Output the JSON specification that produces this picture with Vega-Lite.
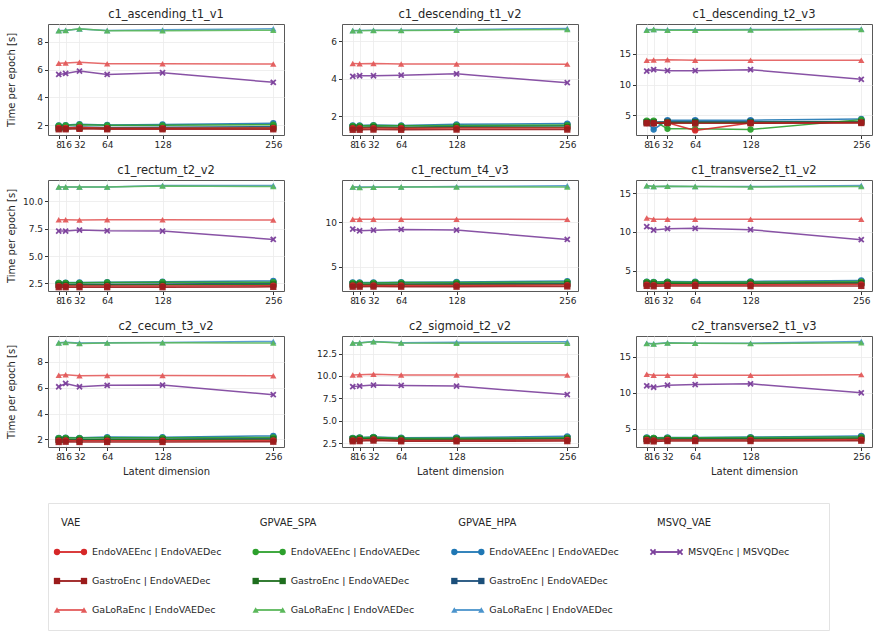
{
  "$schema": "https://vega.github.io/schema/vega-lite/v6.json",
  "background": "white",
  "padding": {"left": 5, "top": 8, "right": 5, "bottom": 4},
  "datasets": {
    "c1_ascending_t1_v1": [
      {"series":"HPA Endo","dim":8,"time":2.0},{"series":"HPA Endo","dim":16,"time":2.02},{"series":"HPA Endo","dim":32,"time":2.08},{"series":"HPA Endo","dim":64,"time":2.03},{"series":"HPA Endo","dim":128,"time":2.06},{"series":"HPA Endo","dim":256,"time":2.15},
      {"series":"HPA GaLoRa","dim":8,"time":8.8},{"series":"HPA GaLoRa","dim":16,"time":8.82},{"series":"HPA GaLoRa","dim":32,"time":8.9},{"series":"HPA GaLoRa","dim":64,"time":8.8},{"series":"HPA GaLoRa","dim":128,"time":8.84},{"series":"HPA GaLoRa","dim":256,"time":8.92},
      {"series":"HPA Gastro","dim":8,"time":1.85},{"series":"HPA Gastro","dim":16,"time":1.85},{"series":"HPA Gastro","dim":32,"time":1.88},{"series":"HPA Gastro","dim":64,"time":1.85},{"series":"HPA Gastro","dim":128,"time":1.86},{"series":"HPA Gastro","dim":256,"time":1.9},
      {"series":"MSVQ","dim":8,"time":5.65},{"series":"MSVQ","dim":16,"time":5.72},{"series":"MSVQ","dim":32,"time":5.89},{"series":"MSVQ","dim":64,"time":5.65},{"series":"MSVQ","dim":128,"time":5.77},{"series":"MSVQ","dim":256,"time":5.08},
      {"series":"SPA Endo","dim":8,"time":1.98},{"series":"SPA Endo","dim":16,"time":2.0},{"series":"SPA Endo","dim":32,"time":2.05},{"series":"SPA Endo","dim":64,"time":2.0},{"series":"SPA Endo","dim":128,"time":2.0},{"series":"SPA Endo","dim":256,"time":2.05},
      {"series":"SPA GaLoRa","dim":8,"time":8.78},{"series":"SPA GaLoRa","dim":16,"time":8.8},{"series":"SPA GaLoRa","dim":32,"time":8.92},{"series":"SPA GaLoRa","dim":64,"time":8.78},{"series":"SPA GaLoRa","dim":128,"time":8.78},{"series":"SPA GaLoRa","dim":256,"time":8.82},
      {"series":"SPA Gastro","dim":8,"time":1.8},{"series":"SPA Gastro","dim":16,"time":1.8},{"series":"SPA Gastro","dim":32,"time":1.83},{"series":"SPA Gastro","dim":64,"time":1.8},{"series":"SPA Gastro","dim":128,"time":1.8},{"series":"SPA Gastro","dim":256,"time":1.82},
      {"series":"VAE Endo","dim":8,"time":1.82},{"series":"VAE Endo","dim":16,"time":1.82},{"series":"VAE Endo","dim":32,"time":1.85},{"series":"VAE Endo","dim":64,"time":1.8},{"series":"VAE Endo","dim":128,"time":1.8},{"series":"VAE Endo","dim":256,"time":1.82},
      {"series":"VAE GaLoRa","dim":8,"time":6.45},{"series":"VAE GaLoRa","dim":16,"time":6.47},{"series":"VAE GaLoRa","dim":32,"time":6.52},{"series":"VAE GaLoRa","dim":64,"time":6.42},{"series":"VAE GaLoRa","dim":128,"time":6.42},{"series":"VAE GaLoRa","dim":256,"time":6.4},
      {"series":"VAE Gastro","dim":8,"time":1.72},{"series":"VAE Gastro","dim":16,"time":1.72},{"series":"VAE Gastro","dim":32,"time":1.75},{"series":"VAE Gastro","dim":64,"time":1.72},{"series":"VAE Gastro","dim":128,"time":1.72},{"series":"VAE Gastro","dim":256,"time":1.72}
    ],
    "c1_descending_t1_v2": [
      {"series":"HPA Endo","dim":8,"time":1.5},{"series":"HPA Endo","dim":16,"time":1.5},{"series":"HPA Endo","dim":32,"time":1.52},{"series":"HPA Endo","dim":64,"time":1.5},{"series":"HPA Endo","dim":128,"time":1.56},{"series":"HPA Endo","dim":256,"time":1.6},
      {"series":"HPA GaLoRa","dim":8,"time":6.56},{"series":"HPA GaLoRa","dim":16,"time":6.57},{"series":"HPA GaLoRa","dim":32,"time":6.58},{"series":"HPA GaLoRa","dim":64,"time":6.58},{"series":"HPA GaLoRa","dim":128,"time":6.61},{"series":"HPA GaLoRa","dim":256,"time":6.67},
      {"series":"HPA Gastro","dim":8,"time":1.4},{"series":"HPA Gastro","dim":16,"time":1.4},{"series":"HPA Gastro","dim":32,"time":1.42},{"series":"HPA Gastro","dim":64,"time":1.4},{"series":"HPA Gastro","dim":128,"time":1.45},{"series":"HPA Gastro","dim":256,"time":1.48},
      {"series":"MSVQ","dim":8,"time":4.12},{"series":"MSVQ","dim":16,"time":4.15},{"series":"MSVQ","dim":32,"time":4.15},{"series":"MSVQ","dim":64,"time":4.18},{"series":"MSVQ","dim":128,"time":4.25},{"series":"MSVQ","dim":256,"time":3.78},
      {"series":"SPA Endo","dim":8,"time":1.48},{"series":"SPA Endo","dim":16,"time":1.48},{"series":"SPA Endo","dim":32,"time":1.5},{"series":"SPA Endo","dim":64,"time":1.48},{"series":"SPA Endo","dim":128,"time":1.5},{"series":"SPA Endo","dim":256,"time":1.52},
      {"series":"SPA GaLoRa","dim":8,"time":6.55},{"series":"SPA GaLoRa","dim":16,"time":6.55},{"series":"SPA GaLoRa","dim":32,"time":6.56},{"series":"SPA GaLoRa","dim":64,"time":6.56},{"series":"SPA GaLoRa","dim":128,"time":6.58},{"series":"SPA GaLoRa","dim":256,"time":6.62},
      {"series":"SPA Gastro","dim":8,"time":1.38},{"series":"SPA Gastro","dim":16,"time":1.38},{"series":"SPA Gastro","dim":32,"time":1.4},{"series":"SPA Gastro","dim":64,"time":1.38},{"series":"SPA Gastro","dim":128,"time":1.4},{"series":"SPA Gastro","dim":256,"time":1.4},
      {"series":"VAE Endo","dim":8,"time":1.35},{"series":"VAE Endo","dim":16,"time":1.35},{"series":"VAE Endo","dim":32,"time":1.36},{"series":"VAE Endo","dim":64,"time":1.35},{"series":"VAE Endo","dim":128,"time":1.36},{"series":"VAE Endo","dim":256,"time":1.37},
      {"series":"VAE GaLoRa","dim":8,"time":4.8},{"series":"VAE GaLoRa","dim":16,"time":4.79},{"series":"VAE GaLoRa","dim":32,"time":4.8},{"series":"VAE GaLoRa","dim":64,"time":4.78},{"series":"VAE GaLoRa","dim":128,"time":4.78},{"series":"VAE GaLoRa","dim":256,"time":4.77},
      {"series":"VAE Gastro","dim":8,"time":1.27},{"series":"VAE Gastro","dim":16,"time":1.27},{"series":"VAE Gastro","dim":32,"time":1.28},{"series":"VAE Gastro","dim":64,"time":1.27},{"series":"VAE Gastro","dim":128,"time":1.28},{"series":"VAE Gastro","dim":256,"time":1.28}
    ],
    "c1_descending_t2_v3": [
      {"series":"HPA Endo","dim":8,"time":3.85},{"series":"HPA Endo","dim":16,"time":2.7},{"series":"HPA Endo","dim":32,"time":4.2},{"series":"HPA Endo","dim":64,"time":4.2},{"series":"HPA Endo","dim":128,"time":4.2},{"series":"HPA Endo","dim":256,"time":4.4},
      {"series":"HPA GaLoRa","dim":8,"time":18.9},{"series":"HPA GaLoRa","dim":16,"time":18.95},{"series":"HPA GaLoRa","dim":32,"time":18.9},{"series":"HPA GaLoRa","dim":64,"time":18.9},{"series":"HPA GaLoRa","dim":128,"time":18.95},{"series":"HPA GaLoRa","dim":256,"time":19.05},
      {"series":"HPA Gastro","dim":8,"time":3.9},{"series":"HPA Gastro","dim":16,"time":3.9},{"series":"HPA Gastro","dim":32,"time":3.95},{"series":"HPA Gastro","dim":64,"time":3.95},{"series":"HPA Gastro","dim":128,"time":3.95},{"series":"HPA Gastro","dim":256,"time":4.0},
      {"series":"MSVQ","dim":8,"time":12.2},{"series":"MSVQ","dim":16,"time":12.43},{"series":"MSVQ","dim":32,"time":12.26},{"series":"MSVQ","dim":64,"time":12.26},{"series":"MSVQ","dim":128,"time":12.43},{"series":"MSVQ","dim":256,"time":10.85},
      {"series":"SPA Endo","dim":8,"time":4.15},{"series":"SPA Endo","dim":16,"time":4.15},{"series":"SPA Endo","dim":32,"time":2.8},{"series":"SPA Endo","dim":64,"time":2.8},{"series":"SPA Endo","dim":128,"time":2.7},{"series":"SPA Endo","dim":256,"time":4.3},
      {"series":"SPA GaLoRa","dim":8,"time":18.85},{"series":"SPA GaLoRa","dim":16,"time":18.95},{"series":"SPA GaLoRa","dim":32,"time":18.85},{"series":"SPA GaLoRa","dim":64,"time":18.85},{"series":"SPA GaLoRa","dim":128,"time":18.88},{"series":"SPA GaLoRa","dim":256,"time":18.95},
      {"series":"SPA Gastro","dim":8,"time":3.85},{"series":"SPA Gastro","dim":16,"time":3.8},{"series":"SPA Gastro","dim":32,"time":3.85},{"series":"SPA Gastro","dim":64,"time":3.85},{"series":"SPA Gastro","dim":128,"time":3.85},{"series":"SPA Gastro","dim":256,"time":3.9},
      {"series":"VAE Endo","dim":8,"time":3.75},{"series":"VAE Endo","dim":16,"time":3.7},{"series":"VAE Endo","dim":32,"time":3.8},{"series":"VAE Endo","dim":64,"time":2.55},{"series":"VAE Endo","dim":128,"time":3.75},{"series":"VAE Endo","dim":256,"time":3.85},
      {"series":"VAE GaLoRa","dim":8,"time":13.95},{"series":"VAE GaLoRa","dim":16,"time":14.0},{"series":"VAE GaLoRa","dim":32,"time":14.05},{"series":"VAE GaLoRa","dim":64,"time":13.95},{"series":"VAE GaLoRa","dim":128,"time":13.95},{"series":"VAE GaLoRa","dim":256,"time":13.95},
      {"series":"VAE Gastro","dim":8,"time":3.7},{"series":"VAE Gastro","dim":16,"time":3.7},{"series":"VAE Gastro","dim":32,"time":3.75},{"series":"VAE Gastro","dim":64,"time":3.7},{"series":"VAE Gastro","dim":128,"time":3.72},{"series":"VAE Gastro","dim":256,"time":3.75}
    ],
    "c1_rectum_t2_v2": [
      {"series":"HPA Endo","dim":8,"time":2.55},{"series":"HPA Endo","dim":16,"time":2.57},{"series":"HPA Endo","dim":32,"time":2.58},{"series":"HPA Endo","dim":64,"time":2.6},{"series":"HPA Endo","dim":128,"time":2.65},{"series":"HPA Endo","dim":256,"time":2.72},
      {"series":"HPA GaLoRa","dim":8,"time":11.32},{"series":"HPA GaLoRa","dim":16,"time":11.32},{"series":"HPA GaLoRa","dim":32,"time":11.3},{"series":"HPA GaLoRa","dim":64,"time":11.32},{"series":"HPA GaLoRa","dim":128,"time":11.45},{"series":"HPA GaLoRa","dim":256,"time":11.45},
      {"series":"HPA Gastro","dim":8,"time":2.4},{"series":"HPA Gastro","dim":16,"time":2.4},{"series":"HPA Gastro","dim":32,"time":2.42},{"series":"HPA Gastro","dim":64,"time":2.42},{"series":"HPA Gastro","dim":128,"time":2.45},{"series":"HPA Gastro","dim":256,"time":2.5},
      {"series":"MSVQ","dim":8,"time":7.28},{"series":"MSVQ","dim":16,"time":7.28},{"series":"MSVQ","dim":32,"time":7.37},{"series":"MSVQ","dim":64,"time":7.3},{"series":"MSVQ","dim":128,"time":7.28},{"series":"MSVQ","dim":256,"time":6.52},
      {"series":"SPA Endo","dim":8,"time":2.55},{"series":"SPA Endo","dim":16,"time":2.55},{"series":"SPA Endo","dim":32,"time":2.55},{"series":"SPA Endo","dim":64,"time":2.58},{"series":"SPA Endo","dim":128,"time":2.6},{"series":"SPA Endo","dim":256,"time":2.6},
      {"series":"SPA GaLoRa","dim":8,"time":11.3},{"series":"SPA GaLoRa","dim":16,"time":11.3},{"series":"SPA GaLoRa","dim":32,"time":11.3},{"series":"SPA GaLoRa","dim":64,"time":11.3},{"series":"SPA GaLoRa","dim":128,"time":11.4},{"series":"SPA GaLoRa","dim":256,"time":11.35},
      {"series":"SPA Gastro","dim":8,"time":2.35},{"series":"SPA Gastro","dim":16,"time":2.35},{"series":"SPA Gastro","dim":32,"time":2.35},{"series":"SPA Gastro","dim":64,"time":2.35},{"series":"SPA Gastro","dim":128,"time":2.38},{"series":"SPA Gastro","dim":256,"time":2.4},
      {"series":"VAE Endo","dim":8,"time":2.25},{"series":"VAE Endo","dim":16,"time":2.25},{"series":"VAE Endo","dim":32,"time":2.25},{"series":"VAE Endo","dim":64,"time":2.25},{"series":"VAE Endo","dim":128,"time":2.25},{"series":"VAE Endo","dim":256,"time":2.28},
      {"series":"VAE GaLoRa","dim":8,"time":8.32},{"series":"VAE GaLoRa","dim":16,"time":8.32},{"series":"VAE GaLoRa","dim":32,"time":8.3},{"series":"VAE GaLoRa","dim":64,"time":8.32},{"series":"VAE GaLoRa","dim":128,"time":8.32},{"series":"VAE GaLoRa","dim":256,"time":8.3},
      {"series":"VAE Gastro","dim":8,"time":2.15},{"series":"VAE Gastro","dim":16,"time":2.15},{"series":"VAE Gastro","dim":32,"time":2.15},{"series":"VAE Gastro","dim":64,"time":2.15},{"series":"VAE Gastro","dim":128,"time":2.15},{"series":"VAE Gastro","dim":256,"time":2.18}
    ],
    "c1_rectum_t4_v3": [
      {"series":"HPA Endo","dim":8,"time":3.2},{"series":"HPA Endo","dim":16,"time":3.2},{"series":"HPA Endo","dim":32,"time":3.2},{"series":"HPA Endo","dim":64,"time":3.22},{"series":"HPA Endo","dim":128,"time":3.25},{"series":"HPA Endo","dim":256,"time":3.35},
      {"series":"HPA GaLoRa","dim":8,"time":14.02},{"series":"HPA GaLoRa","dim":16,"time":14.0},{"series":"HPA GaLoRa","dim":32,"time":14.0},{"series":"HPA GaLoRa","dim":64,"time":14.02},{"series":"HPA GaLoRa","dim":128,"time":14.05},{"series":"HPA GaLoRa","dim":256,"time":14.15},
      {"series":"HPA Gastro","dim":8,"time":3.0},{"series":"HPA Gastro","dim":16,"time":3.0},{"series":"HPA Gastro","dim":32,"time":3.02},{"series":"HPA Gastro","dim":64,"time":3.03},{"series":"HPA Gastro","dim":128,"time":3.05},{"series":"HPA Gastro","dim":256,"time":3.1},
      {"series":"MSVQ","dim":8,"time":9.24},{"series":"MSVQ","dim":16,"time":9.05},{"series":"MSVQ","dim":32,"time":9.12},{"series":"MSVQ","dim":64,"time":9.2},{"series":"MSVQ","dim":128,"time":9.13},{"series":"MSVQ","dim":256,"time":8.07},
      {"series":"SPA Endo","dim":8,"time":3.15},{"series":"SPA Endo","dim":16,"time":3.15},{"series":"SPA Endo","dim":32,"time":3.15},{"series":"SPA Endo","dim":64,"time":3.18},{"series":"SPA Endo","dim":128,"time":3.18},{"series":"SPA Endo","dim":256,"time":3.25},
      {"series":"SPA GaLoRa","dim":8,"time":14.0},{"series":"SPA GaLoRa","dim":16,"time":13.95},{"series":"SPA GaLoRa","dim":32,"time":13.97},{"series":"SPA GaLoRa","dim":64,"time":14.0},{"series":"SPA GaLoRa","dim":128,"time":14.0},{"series":"SPA GaLoRa","dim":256,"time":14.0},
      {"series":"SPA Gastro","dim":8,"time":2.95},{"series":"SPA Gastro","dim":16,"time":2.95},{"series":"SPA Gastro","dim":32,"time":2.95},{"series":"SPA Gastro","dim":64,"time":2.97},{"series":"SPA Gastro","dim":128,"time":2.97},{"series":"SPA Gastro","dim":256,"time":3.0},
      {"series":"VAE Endo","dim":8,"time":2.85},{"series":"VAE Endo","dim":16,"time":2.85},{"series":"VAE Endo","dim":32,"time":2.85},{"series":"VAE Endo","dim":64,"time":2.85},{"series":"VAE Endo","dim":128,"time":2.85},{"series":"VAE Endo","dim":256,"time":2.9},
      {"series":"VAE GaLoRa","dim":8,"time":10.36},{"series":"VAE GaLoRa","dim":16,"time":10.35},{"series":"VAE GaLoRa","dim":32,"time":10.35},{"series":"VAE GaLoRa","dim":64,"time":10.35},{"series":"VAE GaLoRa","dim":128,"time":10.35},{"series":"VAE GaLoRa","dim":256,"time":10.34},
      {"series":"VAE Gastro","dim":8,"time":2.72},{"series":"VAE Gastro","dim":16,"time":2.72},{"series":"VAE Gastro","dim":32,"time":2.73},{"series":"VAE Gastro","dim":64,"time":2.72},{"series":"VAE Gastro","dim":128,"time":2.72},{"series":"VAE Gastro","dim":256,"time":2.75}
    ],
    "c1_transverse2_t1_v2": [
      {"series":"HPA Endo","dim":8,"time":3.6},{"series":"HPA Endo","dim":16,"time":3.55},{"series":"HPA Endo","dim":32,"time":3.6},{"series":"HPA Endo","dim":64,"time":3.58},{"series":"HPA Endo","dim":128,"time":3.62},{"series":"HPA Endo","dim":256,"time":3.75},
      {"series":"HPA GaLoRa","dim":8,"time":15.97},{"series":"HPA GaLoRa","dim":16,"time":15.87},{"series":"HPA GaLoRa","dim":32,"time":15.9},{"series":"HPA GaLoRa","dim":64,"time":15.87},{"series":"HPA GaLoRa","dim":128,"time":15.85},{"series":"HPA GaLoRa","dim":256,"time":16.0},
      {"series":"HPA Gastro","dim":8,"time":3.4},{"series":"HPA Gastro","dim":16,"time":3.38},{"series":"HPA Gastro","dim":32,"time":3.4},{"series":"HPA Gastro","dim":64,"time":3.4},{"series":"HPA Gastro","dim":128,"time":3.42},{"series":"HPA Gastro","dim":256,"time":3.5},
      {"series":"MSVQ","dim":8,"time":10.68},{"series":"MSVQ","dim":16,"time":10.25},{"series":"MSVQ","dim":32,"time":10.42},{"series":"MSVQ","dim":64,"time":10.47},{"series":"MSVQ","dim":128,"time":10.3},{"series":"MSVQ","dim":256,"time":9.01},
      {"series":"SPA Endo","dim":8,"time":3.55},{"series":"SPA Endo","dim":16,"time":3.52},{"series":"SPA Endo","dim":32,"time":3.55},{"series":"SPA Endo","dim":64,"time":3.52},{"series":"SPA Endo","dim":128,"time":3.55},{"series":"SPA Endo","dim":256,"time":3.6},
      {"series":"SPA GaLoRa","dim":8,"time":15.95},{"series":"SPA GaLoRa","dim":16,"time":15.85},{"series":"SPA GaLoRa","dim":32,"time":15.88},{"series":"SPA GaLoRa","dim":64,"time":15.85},{"series":"SPA GaLoRa","dim":128,"time":15.8},{"series":"SPA GaLoRa","dim":256,"time":15.85},
      {"series":"SPA Gastro","dim":8,"time":3.35},{"series":"SPA Gastro","dim":16,"time":3.3},{"series":"SPA Gastro","dim":32,"time":3.35},{"series":"SPA Gastro","dim":64,"time":3.35},{"series":"SPA Gastro","dim":128,"time":3.35},{"series":"SPA Gastro","dim":256,"time":3.4},
      {"series":"VAE Endo","dim":8,"time":3.2},{"series":"VAE Endo","dim":16,"time":3.15},{"series":"VAE Endo","dim":32,"time":3.2},{"series":"VAE Endo","dim":64,"time":3.2},{"series":"VAE Endo","dim":128,"time":3.2},{"series":"VAE Endo","dim":256,"time":3.25},
      {"series":"VAE GaLoRa","dim":8,"time":11.8},{"series":"VAE GaLoRa","dim":16,"time":11.63},{"series":"VAE GaLoRa","dim":32,"time":11.65},{"series":"VAE GaLoRa","dim":64,"time":11.65},{"series":"VAE GaLoRa","dim":128,"time":11.65},{"series":"VAE GaLoRa","dim":256,"time":11.65},
      {"series":"VAE Gastro","dim":8,"time":3.05},{"series":"VAE Gastro","dim":16,"time":3.0},{"series":"VAE Gastro","dim":32,"time":3.05},{"series":"VAE Gastro","dim":64,"time":3.05},{"series":"VAE Gastro","dim":128,"time":3.02},{"series":"VAE Gastro","dim":256,"time":3.05}
    ],
    "c2_cecum_t3_v2": [
      {"series":"HPA Endo","dim":8,"time":2.12},{"series":"HPA Endo","dim":16,"time":2.14},{"series":"HPA Endo","dim":32,"time":2.12},{"series":"HPA Endo","dim":64,"time":2.18},{"series":"HPA Endo","dim":128,"time":2.17},{"series":"HPA Endo","dim":256,"time":2.27},
      {"series":"HPA GaLoRa","dim":8,"time":9.47},{"series":"HPA GaLoRa","dim":16,"time":9.52},{"series":"HPA GaLoRa","dim":32,"time":9.45},{"series":"HPA GaLoRa","dim":64,"time":9.47},{"series":"HPA GaLoRa","dim":128,"time":9.5},{"series":"HPA GaLoRa","dim":256,"time":9.58},
      {"series":"HPA Gastro","dim":8,"time":1.98},{"series":"HPA Gastro","dim":16,"time":2.0},{"series":"HPA Gastro","dim":32,"time":1.98},{"series":"HPA Gastro","dim":64,"time":2.02},{"series":"HPA Gastro","dim":128,"time":2.02},{"series":"HPA Gastro","dim":256,"time":2.08},
      {"series":"MSVQ","dim":8,"time":6.07},{"series":"MSVQ","dim":16,"time":6.33},{"series":"MSVQ","dim":32,"time":6.07},{"series":"MSVQ","dim":64,"time":6.18},{"series":"MSVQ","dim":128,"time":6.2},{"series":"MSVQ","dim":256,"time":5.46},
      {"series":"SPA Endo","dim":8,"time":2.1},{"series":"SPA Endo","dim":16,"time":2.12},{"series":"SPA Endo","dim":32,"time":2.1},{"series":"SPA Endo","dim":64,"time":2.12},{"series":"SPA Endo","dim":128,"time":2.12},{"series":"SPA Endo","dim":256,"time":2.15},
      {"series":"SPA GaLoRa","dim":8,"time":9.45},{"series":"SPA GaLoRa","dim":16,"time":9.5},{"series":"SPA GaLoRa","dim":32,"time":9.42},{"series":"SPA GaLoRa","dim":64,"time":9.45},{"series":"SPA GaLoRa","dim":128,"time":9.47},{"series":"SPA GaLoRa","dim":256,"time":9.46},
      {"series":"SPA Gastro","dim":8,"time":1.95},{"series":"SPA Gastro","dim":16,"time":1.97},{"series":"SPA Gastro","dim":32,"time":1.95},{"series":"SPA Gastro","dim":64,"time":1.97},{"series":"SPA Gastro","dim":128,"time":1.97},{"series":"SPA Gastro","dim":256,"time":2.0},
      {"series":"VAE Endo","dim":8,"time":1.9},{"series":"VAE Endo","dim":16,"time":1.92},{"series":"VAE Endo","dim":32,"time":1.9},{"series":"VAE Endo","dim":64,"time":1.9},{"series":"VAE Endo","dim":128,"time":1.9},{"series":"VAE Endo","dim":256,"time":1.92},
      {"series":"VAE GaLoRa","dim":8,"time":6.97},{"series":"VAE GaLoRa","dim":16,"time":7.0},{"series":"VAE GaLoRa","dim":32,"time":6.92},{"series":"VAE GaLoRa","dim":64,"time":6.95},{"series":"VAE GaLoRa","dim":128,"time":6.95},{"series":"VAE GaLoRa","dim":256,"time":6.92},
      {"series":"VAE Gastro","dim":8,"time":1.8},{"series":"VAE Gastro","dim":16,"time":1.82},{"series":"VAE Gastro","dim":32,"time":1.8},{"series":"VAE Gastro","dim":64,"time":1.8},{"series":"VAE Gastro","dim":128,"time":1.8},{"series":"VAE Gastro","dim":256,"time":1.82}
    ],
    "c2_sigmoid_t2_v2": [
      {"series":"HPA Endo","dim":8,"time":3.08},{"series":"HPA Endo","dim":16,"time":3.12},{"series":"HPA Endo","dim":32,"time":3.18},{"series":"HPA Endo","dim":64,"time":3.1},{"series":"HPA Endo","dim":128,"time":3.12},{"series":"HPA Endo","dim":256,"time":3.25},
      {"series":"HPA GaLoRa","dim":8,"time":13.7},{"series":"HPA GaLoRa","dim":16,"time":13.72},{"series":"HPA GaLoRa","dim":32,"time":13.85},{"series":"HPA GaLoRa","dim":64,"time":13.72},{"series":"HPA GaLoRa","dim":128,"time":13.78},{"series":"HPA GaLoRa","dim":256,"time":13.82},
      {"series":"HPA Gastro","dim":8,"time":2.95},{"series":"HPA Gastro","dim":16,"time":2.98},{"series":"HPA Gastro","dim":32,"time":3.05},{"series":"HPA Gastro","dim":64,"time":2.95},{"series":"HPA Gastro","dim":128,"time":2.98},{"series":"HPA Gastro","dim":256,"time":3.05},
      {"series":"MSVQ","dim":8,"time":8.81},{"series":"MSVQ","dim":16,"time":8.87},{"series":"MSVQ","dim":32,"time":8.98},{"series":"MSVQ","dim":64,"time":8.94},{"series":"MSVQ","dim":128,"time":8.87},{"series":"MSVQ","dim":256,"time":7.92},
      {"series":"SPA Endo","dim":8,"time":3.05},{"series":"SPA Endo","dim":16,"time":3.1},{"series":"SPA Endo","dim":32,"time":3.15},{"series":"SPA Endo","dim":64,"time":3.05},{"series":"SPA Endo","dim":128,"time":3.05},{"series":"SPA Endo","dim":256,"time":3.1},
      {"series":"SPA GaLoRa","dim":8,"time":13.68},{"series":"SPA GaLoRa","dim":16,"time":13.7},{"series":"SPA GaLoRa","dim":32,"time":13.82},{"series":"SPA GaLoRa","dim":64,"time":13.68},{"series":"SPA GaLoRa","dim":128,"time":13.65},{"series":"SPA GaLoRa","dim":256,"time":13.65},
      {"series":"SPA Gastro","dim":8,"time":2.9},{"series":"SPA Gastro","dim":16,"time":2.95},{"series":"SPA Gastro","dim":32,"time":3.0},{"series":"SPA Gastro","dim":64,"time":2.9},{"series":"SPA Gastro","dim":128,"time":2.9},{"series":"SPA Gastro","dim":256,"time":2.95},
      {"series":"VAE Endo","dim":8,"time":2.8},{"series":"VAE Endo","dim":16,"time":2.85},{"series":"VAE Endo","dim":32,"time":2.9},{"series":"VAE Endo","dim":64,"time":2.8},{"series":"VAE Endo","dim":128,"time":2.8},{"series":"VAE Endo","dim":256,"time":2.85},
      {"series":"VAE GaLoRa","dim":8,"time":10.11},{"series":"VAE GaLoRa","dim":16,"time":10.13},{"series":"VAE GaLoRa","dim":32,"time":10.2},{"series":"VAE GaLoRa","dim":64,"time":10.11},{"series":"VAE GaLoRa","dim":128,"time":10.1},{"series":"VAE GaLoRa","dim":256,"time":10.1},
      {"series":"VAE Gastro","dim":8,"time":2.7},{"series":"VAE Gastro","dim":16,"time":2.72},{"series":"VAE Gastro","dim":32,"time":2.78},{"series":"VAE Gastro","dim":64,"time":2.7},{"series":"VAE Gastro","dim":128,"time":2.7},{"series":"VAE Gastro","dim":256,"time":2.72}
    ],
    "c2_transverse2_t1_v3": [
      {"series":"HPA Endo","dim":8,"time":3.8},{"series":"HPA Endo","dim":16,"time":3.75},{"series":"HPA Endo","dim":32,"time":3.8},{"series":"HPA Endo","dim":64,"time":3.8},{"series":"HPA Endo","dim":128,"time":3.85},{"series":"HPA Endo","dim":256,"time":4.0},
      {"series":"HPA GaLoRa","dim":8,"time":16.88},{"series":"HPA GaLoRa","dim":16,"time":16.82},{"series":"HPA GaLoRa","dim":32,"time":16.95},{"series":"HPA GaLoRa","dim":64,"time":16.9},{"series":"HPA GaLoRa","dim":128,"time":16.9},{"series":"HPA GaLoRa","dim":256,"time":17.12},
      {"series":"HPA Gastro","dim":8,"time":3.6},{"series":"HPA Gastro","dim":16,"time":3.55},{"series":"HPA Gastro","dim":32,"time":3.6},{"series":"HPA Gastro","dim":64,"time":3.6},{"series":"HPA Gastro","dim":128,"time":3.62},{"series":"HPA Gastro","dim":256,"time":3.75},
      {"series":"MSVQ","dim":8,"time":10.97},{"series":"MSVQ","dim":16,"time":10.78},{"series":"MSVQ","dim":32,"time":11.06},{"series":"MSVQ","dim":64,"time":11.15},{"series":"MSVQ","dim":128,"time":11.25},{"series":"MSVQ","dim":256,"time":10.0},
      {"series":"SPA Endo","dim":8,"time":3.75},{"series":"SPA Endo","dim":16,"time":3.72},{"series":"SPA Endo","dim":32,"time":3.75},{"series":"SPA Endo","dim":64,"time":3.75},{"series":"SPA Endo","dim":128,"time":3.78},{"series":"SPA Endo","dim":256,"time":3.85},
      {"series":"SPA GaLoRa","dim":8,"time":16.85},{"series":"SPA GaLoRa","dim":16,"time":16.8},{"series":"SPA GaLoRa","dim":32,"time":16.92},{"series":"SPA GaLoRa","dim":64,"time":16.88},{"series":"SPA GaLoRa","dim":128,"time":16.85},{"series":"SPA GaLoRa","dim":256,"time":16.95},
      {"series":"SPA Gastro","dim":8,"time":3.55},{"series":"SPA Gastro","dim":16,"time":3.5},{"series":"SPA Gastro","dim":32,"time":3.55},{"series":"SPA Gastro","dim":64,"time":3.55},{"series":"SPA Gastro","dim":128,"time":3.58},{"series":"SPA Gastro","dim":256,"time":3.62},
      {"series":"VAE Endo","dim":8,"time":3.45},{"series":"VAE Endo","dim":16,"time":3.4},{"series":"VAE Endo","dim":32,"time":3.45},{"series":"VAE Endo","dim":64,"time":3.45},{"series":"VAE Endo","dim":128,"time":3.45},{"series":"VAE Endo","dim":256,"time":3.5},
      {"series":"VAE GaLoRa","dim":8,"time":12.57},{"series":"VAE GaLoRa","dim":16,"time":12.43},{"series":"VAE GaLoRa","dim":32,"time":12.43},{"series":"VAE GaLoRa","dim":64,"time":12.43},{"series":"VAE GaLoRa","dim":128,"time":12.43},{"series":"VAE GaLoRa","dim":256,"time":12.53},
      {"series":"VAE Gastro","dim":8,"time":3.3},{"series":"VAE Gastro","dim":16,"time":3.25},{"series":"VAE Gastro","dim":32,"time":3.3},{"series":"VAE Gastro","dim":64,"time":3.3},{"series":"VAE Gastro","dim":128,"time":3.3},{"series":"VAE Gastro","dim":256,"time":3.35}
    ],
    "legend_entries": [
      {"group":"VAE","rank":1,"series":"VAE Endo","label":"EndoVAEEnc | EndoVAEDec"},
      {"group":"VAE","rank":2,"series":"VAE Gastro","label":"GastroEnc | EndoVAEDec"},
      {"group":"VAE","rank":3,"series":"VAE GaLoRa","label":"GaLoRaEnc | EndoVAEDec"},
      {"group":"GPVAE_SPA","rank":1,"series":"SPA Endo","label":"EndoVAEEnc | EndoVAEDec"},
      {"group":"GPVAE_SPA","rank":2,"series":"SPA Gastro","label":"GastroEnc | EndoVAEDec"},
      {"group":"GPVAE_SPA","rank":3,"series":"SPA GaLoRa","label":"GaLoRaEnc | EndoVAEDec"},
      {"group":"GPVAE_HPA","rank":1,"series":"HPA Endo","label":"EndoVAEEnc | EndoVAEDec"},
      {"group":"GPVAE_HPA","rank":2,"series":"HPA Gastro","label":"GastroEnc | EndoVAEDec"},
      {"group":"GPVAE_HPA","rank":3,"series":"HPA GaLoRa","label":"GaLoRaEnc | EndoVAEDec"},
      {"group":"MSVQ_VAE","rank":1,"series":"MSVQ","label":"MSVQEnc | MSVQDec"}
    ],
    "legend_groups": [
      {"group":"VAE","rank":0},
      {"group":"GPVAE_SPA","rank":0},
      {"group":"GPVAE_HPA","rank":0},
      {"group":"MSVQ_VAE","rank":0}
    ]
  },
  "config": {
    "font": "DejaVu Sans",
    "view": {"stroke": "#595959", "strokeWidth": 1},
    "axis": {
      "labelFont": "DejaVu Sans", "labelFontSize": 9, "labelColor": "#262626",
      "titleFont": "DejaVu Sans", "titleFontSize": 10, "titleFontWeight": "normal", "titleColor": "#262626",
      "gridColor": "#ebebeb", "gridWidth": 0.8, "domain": false,
      "tickColor": "#333333", "tickSize": 3.5, "labelPadding": 2
    },
    "axisX": {"labelOverlap": false, "labelFlush": false, "labelBound": false, "titlePadding": 5},
    "axisY": {"labelOverlap": false, "titlePadding": 2, "minExtent": 30, "maxExtent": 30},
    "title": {"font": "DejaVu Sans", "fontSize": 11.5, "fontWeight": "normal", "color": "#262626", "offset": 4},
    "legend": {"disable": true},
    "range": {
      "category": ["#1f77b4", "#4b94cc", "#1b4f7a", "#7b3f9b", "#2ca02c", "#5bb85b", "#1e6e1e", "#d62728", "#e35b5b", "#9b1b1b"],
      "symbol": ["circle", "triangle-up", "square", "M-1,-0.6L-0.6,-1L0,-0.4L0.6,-1L1,-0.6L0.4,0L1,0.6L0.6,1L0,0.4L-0.6,1L-1,0.6L-0.4,0Z", "circle", "triangle-up", "square", "circle", "triangle-up", "square"]
    }
  },
  "spacing": 25,
  "vconcat": [
    {
      "columns": 3,
      "align": "each",
      "spacing": {"row": 14, "column": 26},
      "concat": [
        {
          "title": "c1_ascending_t1_v1", "data": {"name": "c1_ascending_t1_v1"}, "width": 236, "height": 111,
          "encoding": {
            "x": {"field": "dim", "type": "quantitative", "scale": {"domain": [-4.4, 268.4], "nice": false, "zero": false}, "axis": {"values": [8, 16, 32, 64, 128, 256], "format": "d", "title": null}},
            "y": {"field": "time", "type": "quantitative", "scale": {"domain": [1.31, 9.26], "nice": false, "zero": false}, "axis": {"values": [2, 4, 6, 8], "format": "d", "title": "Time per epoch [s]"}},
            "color": {"field": "series", "type": "nominal"}
          },
          "layer": [
            {"mark": {"type": "line", "strokeWidth": 1.5, "opacity": 0.9}},
            {"mark": {"type": "point", "filled": true, "size": 40, "opacity": 0.95}, "encoding": {"shape": {"field": "series", "type": "nominal"}}}
          ]
        },
        {
          "title": "c1_descending_t1_v2", "data": {"name": "c1_descending_t1_v2"}, "width": 236, "height": 111,
          "encoding": {
            "x": {"field": "dim", "type": "quantitative", "scale": {"domain": [-4.4, 268.4], "nice": false, "zero": false}, "axis": {"values": [8, 16, 32, 64, 128, 256], "format": "d", "title": null}},
            "y": {"field": "time", "type": "quantitative", "scale": {"domain": [0.99, 6.91], "nice": false, "zero": false}, "axis": {"values": [2, 4, 6], "format": "d", "title": null}},
            "color": {"field": "series", "type": "nominal"}
          },
          "layer": [
            {"mark": {"type": "line", "strokeWidth": 1.5, "opacity": 0.9}},
            {"mark": {"type": "point", "filled": true, "size": 40, "opacity": 0.95}, "encoding": {"shape": {"field": "series", "type": "nominal"}}}
          ]
        },
        {
          "title": "c1_descending_t2_v3", "data": {"name": "c1_descending_t2_v3"}, "width": 236, "height": 111,
          "encoding": {
            "x": {"field": "dim", "type": "quantitative", "scale": {"domain": [-4.4, 268.4], "nice": false, "zero": false}, "axis": {"values": [8, 16, 32, 64, 128, 256], "format": "d", "title": null}},
            "y": {"field": "time", "type": "quantitative", "scale": {"domain": [1.8, 19.85], "nice": false, "zero": false}, "axis": {"values": [5, 10, 15], "format": "d", "title": null}},
            "color": {"field": "series", "type": "nominal"}
          },
          "layer": [
            {"mark": {"type": "line", "strokeWidth": 1.5, "opacity": 0.9}},
            {"mark": {"type": "point", "filled": true, "size": 40, "opacity": 0.95}, "encoding": {"shape": {"field": "series", "type": "nominal"}}}
          ]
        },
        {
          "title": "c1_rectum_t2_v2", "data": {"name": "c1_rectum_t2_v2"}, "width": 236, "height": 111,
          "encoding": {
            "x": {"field": "dim", "type": "quantitative", "scale": {"domain": [-4.4, 268.4], "nice": false, "zero": false}, "axis": {"values": [8, 16, 32, 64, 128, 256], "format": "d", "title": null}},
            "y": {"field": "time", "type": "quantitative", "scale": {"domain": [1.8, 11.95], "nice": false, "zero": false}, "axis": {"values": [2.5, 5, 7.5, 10], "format": ".1f", "title": "Time per epoch [s]"}},
            "color": {"field": "series", "type": "nominal"}
          },
          "layer": [
            {"mark": {"type": "line", "strokeWidth": 1.5, "opacity": 0.9}},
            {"mark": {"type": "point", "filled": true, "size": 40, "opacity": 0.95}, "encoding": {"shape": {"field": "series", "type": "nominal"}}}
          ]
        },
        {
          "title": "c1_rectum_t4_v3", "data": {"name": "c1_rectum_t4_v3"}, "width": 236, "height": 111,
          "encoding": {
            "x": {"field": "dim", "type": "quantitative", "scale": {"domain": [-4.4, 268.4], "nice": false, "zero": false}, "axis": {"values": [8, 16, 32, 64, 128, 256], "format": "d", "title": null}},
            "y": {"field": "time", "type": "quantitative", "scale": {"domain": [2.23, 14.8], "nice": false, "zero": false}, "axis": {"values": [5, 10], "format": "d", "title": null}},
            "color": {"field": "series", "type": "nominal"}
          },
          "layer": [
            {"mark": {"type": "line", "strokeWidth": 1.5, "opacity": 0.9}},
            {"mark": {"type": "point", "filled": true, "size": 40, "opacity": 0.95}, "encoding": {"shape": {"field": "series", "type": "nominal"}}}
          ]
        },
        {
          "title": "c1_transverse2_t1_v2", "data": {"name": "c1_transverse2_t1_v2"}, "width": 236, "height": 111,
          "encoding": {
            "x": {"field": "dim", "type": "quantitative", "scale": {"domain": [-4.4, 268.4], "nice": false, "zero": false}, "axis": {"values": [8, 16, 32, 64, 128, 256], "format": "d", "title": null}},
            "y": {"field": "time", "type": "quantitative", "scale": {"domain": [2.39, 16.7], "nice": false, "zero": false}, "axis": {"values": [5, 10, 15], "format": "d", "title": null}},
            "color": {"field": "series", "type": "nominal"}
          },
          "layer": [
            {"mark": {"type": "line", "strokeWidth": 1.5, "opacity": 0.9}},
            {"mark": {"type": "point", "filled": true, "size": 40, "opacity": 0.95}, "encoding": {"shape": {"field": "series", "type": "nominal"}}}
          ]
        },
        {
          "title": "c2_cecum_t3_v2", "data": {"name": "c2_cecum_t3_v2"}, "width": 236, "height": 111,
          "encoding": {
            "x": {"field": "dim", "type": "quantitative", "scale": {"domain": [-4.4, 268.4], "nice": false, "zero": false}, "axis": {"values": [8, 16, 32, 64, 128, 256], "format": "d", "title": "Latent dimension"}},
            "y": {"field": "time", "type": "quantitative", "scale": {"domain": [1.41, 10.0], "nice": false, "zero": false}, "axis": {"values": [2, 4, 6, 8], "format": "d", "title": "Time per epoch [s]"}},
            "color": {"field": "series", "type": "nominal"}
          },
          "layer": [
            {"mark": {"type": "line", "strokeWidth": 1.5, "opacity": 0.9}},
            {"mark": {"type": "point", "filled": true, "size": 40, "opacity": 0.95}, "encoding": {"shape": {"field": "series", "type": "nominal"}}}
          ]
        },
        {
          "title": "c2_sigmoid_t2_v2", "data": {"name": "c2_sigmoid_t2_v2"}, "width": 236, "height": 111,
          "encoding": {
            "x": {"field": "dim", "type": "quantitative", "scale": {"domain": [-4.4, 268.4], "nice": false, "zero": false}, "axis": {"values": [8, 16, 32, 64, 128, 256], "format": "d", "title": "Latent dimension"}},
            "y": {"field": "time", "type": "quantitative", "scale": {"domain": [2.06, 14.47], "nice": false, "zero": false}, "axis": {"values": [2.5, 5, 7.5, 10, 12.5], "format": ".1f", "title": null}},
            "color": {"field": "series", "type": "nominal"}
          },
          "layer": [
            {"mark": {"type": "line", "strokeWidth": 1.5, "opacity": 0.9}},
            {"mark": {"type": "point", "filled": true, "size": 40, "opacity": 0.95}, "encoding": {"shape": {"field": "series", "type": "nominal"}}}
          ]
        },
        {
          "title": "c2_transverse2_t1_v3", "data": {"name": "c2_transverse2_t1_v3"}, "width": 236, "height": 111,
          "encoding": {
            "x": {"field": "dim", "type": "quantitative", "scale": {"domain": [-4.4, 268.4], "nice": false, "zero": false}, "axis": {"values": [8, 16, 32, 64, 128, 256], "format": "d", "title": "Latent dimension"}},
            "y": {"field": "time", "type": "quantitative", "scale": {"domain": [2.47, 17.9], "nice": false, "zero": false}, "axis": {"values": [5, 10, 15], "format": "d", "title": null}},
            "color": {"field": "series", "type": "nominal"}
          },
          "layer": [
            {"mark": {"type": "line", "strokeWidth": 1.5, "opacity": 0.9}},
            {"mark": {"type": "point", "filled": true, "size": 40, "opacity": 0.95}, "encoding": {"shape": {"field": "series", "type": "nominal"}}}
          ]
        }
      ]
    },
    {
      "width": 781, "height": 127,
      "view": {"stroke": "#e3e3e3", "strokeWidth": 1},
      "data": {"name": "legend_entries"},
      "encoding": {
        "x": {"field": "group", "type": "nominal", "scale": {"type": "point", "domain": ["VAE", "GPVAE_SPA", "GPVAE_HPA", "MSVQ_VAE"], "range": [9, 605], "padding": 0}, "axis": null},
        "y": {"field": "rank", "type": "ordinal", "scale": {"type": "point", "domain": [0, 1, 2, 3], "padding": 0.69}, "axis": null}
      },
      "layer": [
        {"mark": {"type": "rule", "x2Offset": 27, "strokeWidth": 1.8}, "encoding": {"x2": {"field": "group"}, "color": {"field": "series", "type": "nominal"}}},
        {"mark": {"type": "point", "filled": true, "size": 40, "opacity": 1}, "encoding": {"color": {"field": "series", "type": "nominal"}, "shape": {"field": "series", "type": "nominal"}}},
        {"mark": {"type": "point", "filled": true, "size": 40, "opacity": 1, "xOffset": 27}, "encoding": {"color": {"field": "series", "type": "nominal"}, "shape": {"field": "series", "type": "nominal"}}},
        {"mark": {"type": "text", "align": "left", "baseline": "middle", "dx": 35, "fontSize": 9.5, "color": "#262626"}, "encoding": {"text": {"field": "label"}}},
        {"data": {"name": "legend_groups"}, "mark": {"type": "text", "align": "left", "baseline": "middle", "dx": 4, "fontSize": 10, "color": "#262626"}, "encoding": {"text": {"field": "group"}}}
      ]
    }
  ]
}
